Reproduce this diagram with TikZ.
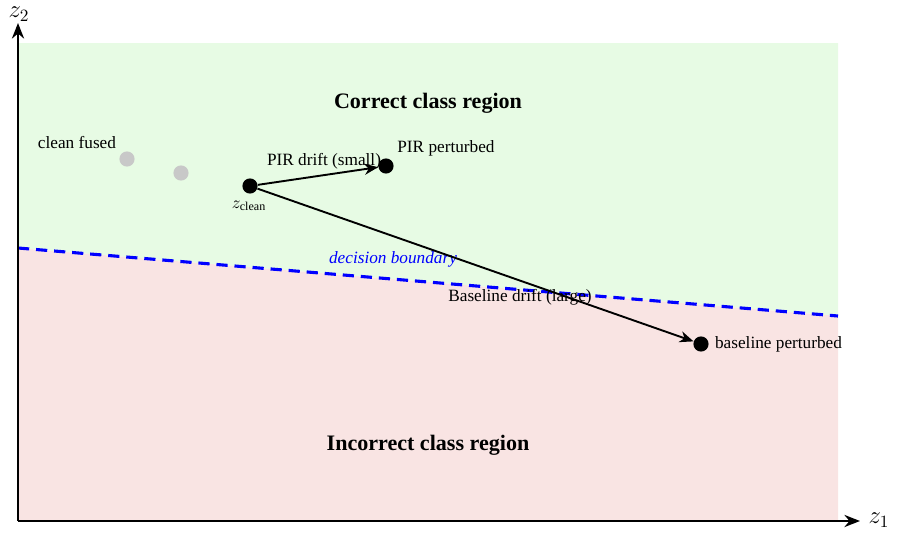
\documentclass[tikz,border=0pt]{standalone}
\usepackage{fontspec}
\setmainfont{Liberation Serif}
\usetikzlibrary{arrows.meta}
\definecolor{goodbg}{HTML}{E7FBE4}
\definecolor{badbg}{HTML}{F9E4E3}
\definecolor{fusedgray}{HTML}{C8C8C8}
\begin{document}
\begin{tikzpicture}[x=0.58pt,y=-0.58pt,
  dot/.style={circle,fill=black,inner sep=0pt,minimum size=8.8pt},
  graydot/.style={circle,fill=fusedgray,inner sep=0pt,minimum size=8.8pt},
  axis/.style={line width=1.6pt,-{Stealth[length=9pt,width=7pt]}},
  drift/.style={line width=1.1pt,-{Stealth[length=8pt,width=6.5pt,inset=2.5pt]}},
  lbl/.style={font=\normalsize,inner sep=1pt},
  region/.style={font=\fontsize{12.8}{15}\selectfont\bfseries}]
\useasboundingbox (0,0) rectangle (898,542);
% regions
\fill[goodbg] (18,43) -- (838,43) -- (838,316) -- (18,248) -- cycle;
\fill[badbg] (18,248) -- (838,316) -- (838,521) -- (18,521) -- cycle;
% boundary
\coordinate (b1) at (18,248);
\coordinate (b2) at (838,316);
\draw[blue,line width=1.8pt,dash pattern=on 6.5pt off 4pt] (b1) -- (b2);
\node[lbl,blue,font=\normalsize\itshape] (bl) at (393,259) {decision boundary};
% axes
\coordinate (o) at (18,521);
\coordinate (xe) at (860,521);
\coordinate (ye) at (18,23);
\draw[axis] (o) -- (xe);
\draw[axis] (o) -- (ye);
\node[font=\Large,inner sep=0pt] (z1) at (879,520) {$z_1$};
\node[font=\Large,inner sep=0pt] (z2) at (19,14) {$z_2$};
% region labels
\node[region] (good) at (428,103) {Correct class region};
\node[region] (bad) at (428,445) {Incorrect class region};
% points
\node[graydot] (g1) at (127,159) {};
\node[graydot] (g2) at (181,173) {};
\node[lbl] (cf) at (77,143) {clean fused};
\node[dot] (zc) at (250,186) {};
\node[lbl] (zcl) at (249,206) {$z_{\mathrm{clean}}$};
\node[dot] (pp) at (386,166) {};
\node[lbl] (ppl) at (446,148) {PIR perturbed};
\node[dot] (bp) at (701,344) {};
\node[lbl,anchor=west] (bpl) at (713,344) {baseline perturbed};
% drifts
\draw[drift] (zc) -- (pp) node[lbl,pos=0.55,above=2pt] {PIR drift (small)};
\draw[drift] (zc) -- (bp);
\node[lbl] (bdl) at (520,297) {Baseline drift (large)};
\end{tikzpicture}
\end{document}
